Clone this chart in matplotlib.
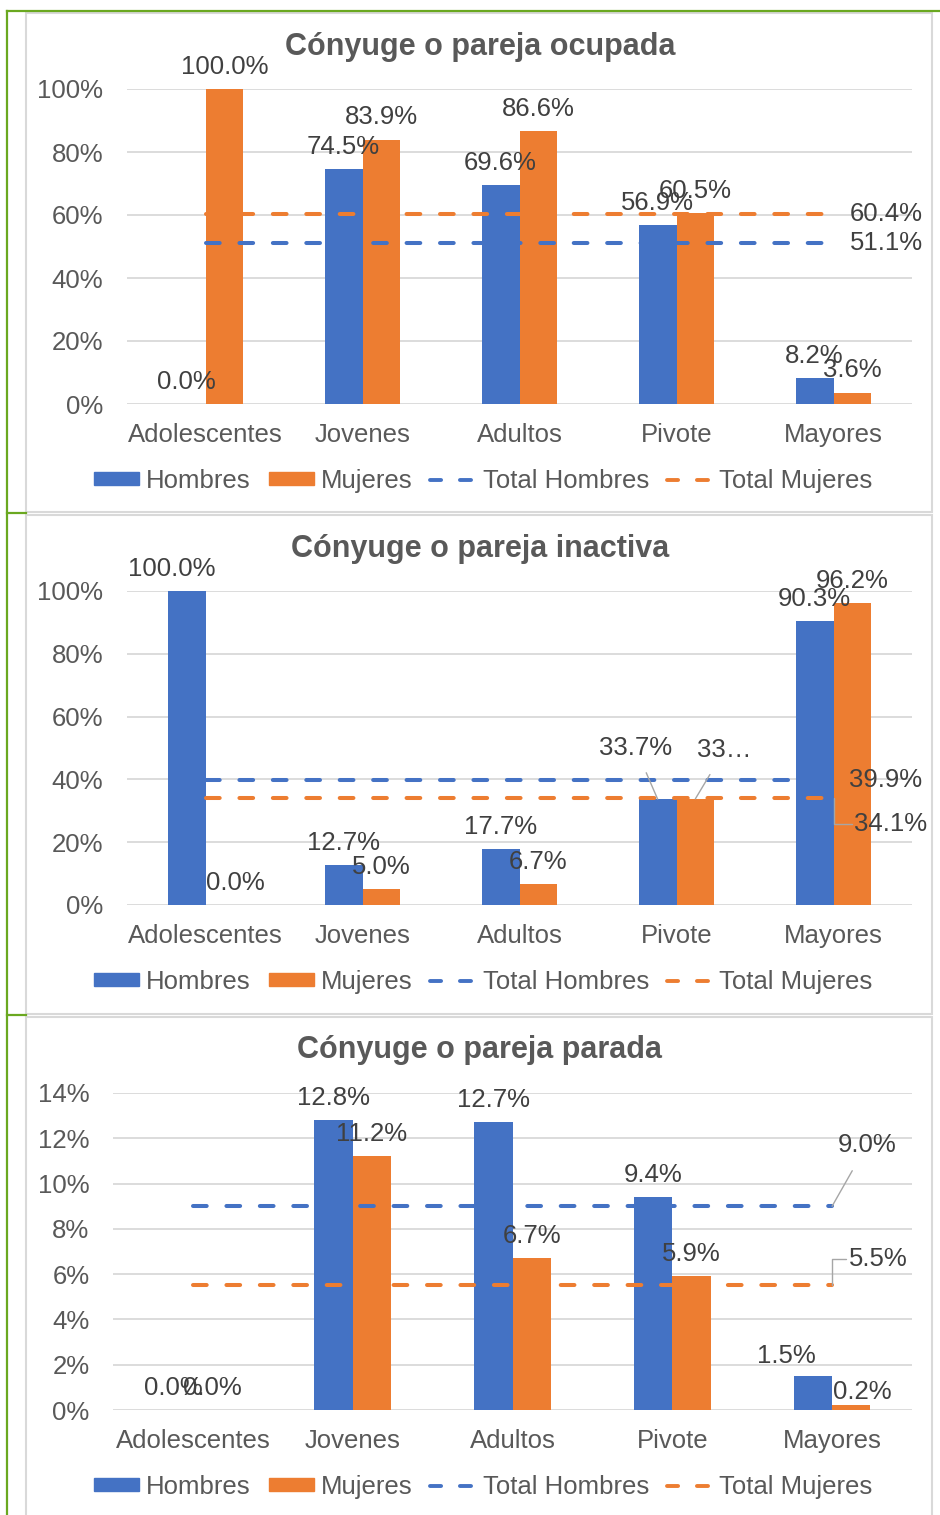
import numpy as np
import matplotlib
matplotlib.use('Agg')
import matplotlib.pyplot as plt
from matplotlib.patches import Rectangle, Patch
from matplotlib.lines import Line2D
from matplotlib.ticker import PercentFormatter, MultipleLocator

plt.rcParams['font.family'] = ['Liberation Sans', 'DejaVu Sans']

categorias = ['Adolescentes', 'Jovenes', 'Adultos', 'Pivote', 'Mayores']

titulo_ocupada = 'Cónyuge o pareja ocupada'
hombres_ocupada = [0.0, 74.5, 69.6, 56.9, 8.2]
mujeres_ocupada = [100.0, 83.9, 86.6, 60.5, 3.6]
total_hombres_ocupada = 51.1
total_mujeres_ocupada = 60.4

titulo_inactiva = 'Cónyuge o pareja inactiva'
hombres_inactiva = [100.0, 12.7, 17.7, 33.7, 90.3]
mujeres_inactiva = [0.0, 5.0, 6.7, 33.8, 96.2]
total_hombres_inactiva = 39.9
total_mujeres_inactiva = 34.1

titulo_parada = 'Cónyuge o pareja parada'
hombres_parada = [0.0, 12.8, 12.7, 9.4, 1.5]
mujeres_parada = [0.0, 11.2, 6.7, 5.9, 0.2]
total_hombres_parada = 9.0
total_mujeres_parada = 5.5

W, H = 940, 1515
fig = plt.figure(figsize=(W / 100, H / 100), dpi=100)

AZUL = '#4472C4'
NARANJA = '#ED7D31'
GRIS = '#595959'
OSCURO = '#404040'
REJILLA = '#D9D9D9'
LIDER = '#A6A6A6'
VERDE = '#6AA820'
FS = 18.5
RAYAS = (3.4, 4.9)


def fx(x):
    return x / W


def fy(y):
    return 1 - y / H


def dibujar(marco, caja, ymax, paso, titulo, hom, muj, t_hom, t_muj, ytit, yley, ajustes):
    # marco gris del panel
    fig.add_artist(Rectangle((fx(26), fy(marco[1])), fx(932) - fx(26), fy(marco[0]) - fy(marco[1]),
                             transform=fig.transFigure, fill=False, ec=REJILLA, lw=1.5))
    x0, x1, ytop, ybot = caja
    ax = fig.add_axes([fx(x0), fy(ybot), fx(x1) - fx(x0), fy(ytop) - fy(ybot)])
    xs = np.arange(len(categorias))
    w = 0.24
    ax.bar(xs - w / 2, hom, w, color=AZUL, zorder=2)
    ax.bar(xs + w / 2, muj, w, color=NARANJA, zorder=2)
    ax.plot([xs[0], xs[-1]], [t_hom, t_hom], color=AZUL, lw=2.9, dashes=RAYAS,
            dash_capstyle='round', zorder=3)
    ax.plot([xs[0], xs[-1]], [t_muj, t_muj], color=NARANJA, lw=2.9, dashes=RAYAS,
            dash_capstyle='round', zorder=3)

    ax.set_xlim(-0.5, len(categorias) - 0.5)
    ax.set_ylim(0, ymax)
    ax.yaxis.set_major_locator(MultipleLocator(paso))
    ax.yaxis.set_major_formatter(PercentFormatter(100, decimals=0))
    ax.set_xticks(xs)
    ax.set_xticklabels(categorias)
    ax.tick_params(axis='both', length=0, labelsize=FS, labelcolor=GRIS)
    ax.tick_params(axis='y', pad=17)
    ax.tick_params(axis='x', pad=14)
    for s in ax.spines.values():
        s.set_visible(False)
    ax.grid(axis='y', color=REJILLA, lw=1.3, zorder=0)
    ax.set_axisbelow(True)

    # etiquetas de datos
    puntos = []
    for i in range(len(categorias)):
        puntos.append((('h', i), xs[i] - w / 2, hom[i], f'{hom[i]:.1f}%'))
        puntos.append((('m', i), xs[i] + w / 2, muj[i], f'{muj[i]:.1f}%'))
    for clave, x, v, txt in puntos:
        dx, dy, otro, lider = ajustes.get(clave, (0, 16, None, None))
        kw = {}
        if lider == 'line':
            kw['arrowprops'] = dict(arrowstyle='-', color=LIDER, lw=1, shrinkA=8, shrinkB=0)
        ax.annotate(otro or txt, (x, v), xytext=(dx, dy), textcoords='offset points',
                    ha='center', va='center', fontsize=FS, color=OSCURO, zorder=5,
                    annotation_clip=False, **kw)

    for clave, v in (('th', t_hom), ('tm', t_muj)):
        dx, dy, ha, lider = ajustes.get(clave, (11.5, 0, 'left', None))
        kw = {}
        if lider == 'line':
            kw['arrowprops'] = dict(arrowstyle='-', color=LIDER, lw=1, shrinkA=9, shrinkB=0)
        elif lider == 'angle':
            kw['arrowprops'] = dict(arrowstyle='-', color=LIDER, lw=1, shrinkA=0, shrinkB=0,
                                    connectionstyle='angle,angleA=0,angleB=90,rad=0',
                                    relpos=(0, 0.5))
        ax.annotate(f'{v:.1f}%', (xs[-1], v), xytext=(dx, dy), textcoords='offset points',
                    ha=ha, va='center', fontsize=FS, color=OSCURO, zorder=5,
                    annotation_clip=False, **kw)

    fig.text(fx(480), fy(ytit), titulo, ha='center', va='center', fontsize=22,
             fontweight='bold', color=GRIS)

    manejadores = [
        Patch(color=AZUL, label='Hombres'),
        Patch(color=NARANJA, label='Mujeres'),
        Line2D([], [], color=AZUL, lw=2.8, dashes=(2.85, 4.85), dash_capstyle='round',
               label='Total Hombres'),
        Line2D([], [], color=NARANJA, lw=2.8, dashes=(2.85, 4.85), dash_capstyle='round',
               label='Total Mujeres'),
    ]
    fig.legend(handles=manejadores, loc='center', bbox_to_anchor=(fx(483), fy(yley)),
               ncol=4, frameon=False, fontsize=FS, labelcolor=GRIS,
               handlelength=1.75, handleheight=0.4, handletextpad=0.28, columnspacing=0.7)
    return ax


dibujar((13, 512), (127, 912, 89, 404), 100, 20, titulo_ocupada,
        hombres_ocupada, mujeres_ocupada, total_hombres_ocupada, total_mujeres_ocupada,
        47, 481, {})

dibujar((515, 1014), (127, 912, 591, 905), 100, 20, titulo_inactiva,
        hombres_inactiva, mujeres_inactiva, total_hombres_inactiva, total_mujeres_inactiva,
        549, 982,
        {('h', 0): (-11, 16, None, None),
         ('m', 0): (8, 16, None, None),
         ('h', 3): (-16, 37, None, 'line'),
         ('m', 3): (21, 35, '33…', 'line'),
         'tm': (15, -19, 'left', 'angle')})

dibujar((1017, 1520), (113, 912, 1093, 1410), 14, 2, titulo_parada,
        hombres_parada, mujeres_parada, total_hombres_parada, total_mujeres_parada,
        1050, 1487,
        {('h', 4): (-19, 14.5, None, None),
         ('m', 4): (8, 10, None, None),
         'th': (25, 44, 'center', 'line'),
         'tm': (12, 19, 'left', 'angle')})

# marco verde exterior
for xs_, ys_ in (([7, 7], [11, 1515]), ([7, 940], [11, 11]),
                 ([7, 26], [513, 513]), ([7, 26], [1015, 1015])):
    fig.add_artist(Line2D([fx(v) for v in xs_], [fy(v) for v in ys_], color=VERDE, lw=1.6,
                          transform=fig.transFigure))

fig.savefig('out.png', dpi=100, facecolor='white')
